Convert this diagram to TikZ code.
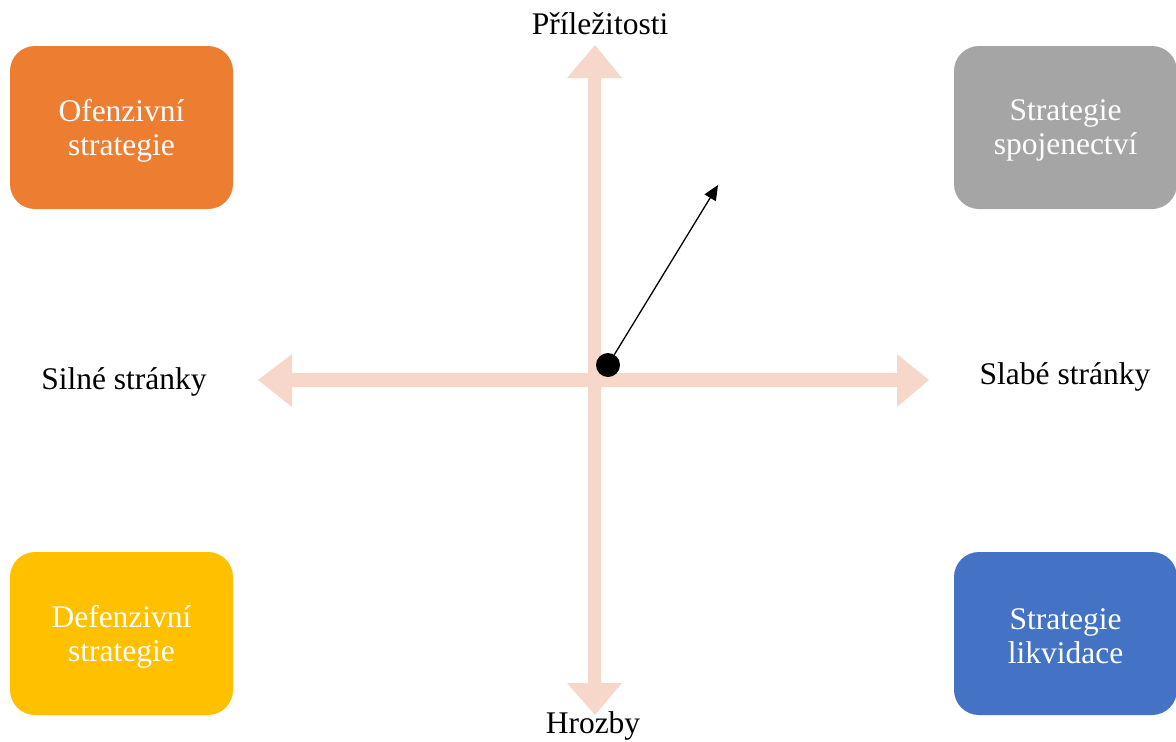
\documentclass[tikz,border=0pt]{standalone}
\usepackage{fontspec}
\setmainfont{Liberation Serif}
\usetikzlibrary{arrows.meta}
\definecolor{axispink}{HTML}{F8D7CB}
\definecolor{orangebox}{HTML}{ED7D31}
\definecolor{graybox}{HTML}{A5A5A5}
\definecolor{yellowbox}{HTML}{FFC000}
\definecolor{bluebox}{HTML}{4472C4}
\begin{document}
\begin{tikzpicture}[x=1pt,y=-1pt,
  quad/.style={rounded corners=25pt, minimum width=223pt, minimum height=163pt, inner sep=0pt},
  boxtext/.style={inner sep=0pt, text=white, align=center, font=\fontsize{31.5}{34}\selectfont},
  lab/.style={inner sep=0pt, font=\fontsize{31.5}{35}\selectfont}]
\useasboundingbox (0,0) rectangle (1176,742);
% axes as one polygon
\fill[axispink] (588,78) -- (567,78) -- (595,45) -- (622,78) -- (601,78) -- (601,373) -- (897,373) -- (897,354) -- (929,380) -- (897,407) -- (897,387) -- (601,387) -- (601,683) -- (622,683) -- (595,715) -- (567,683) -- (588,683) -- (588,387) -- (292,387) -- (292,407) -- (258,380) -- (292,354) -- (292,373) -- (588,373) -- cycle;
\node[quad, fill=orangebox] (off) at (121.5,127.5) {};
\node[quad, fill=graybox] (spo) at (1065.5,127.5) {};
\node[quad, fill=yellowbox] (def) at (121.5,633.5) {};
\node[quad, fill=bluebox] (lik) at (1065.5,633.5) {};
\node[boxtext] (offt) at ([yshift=-3pt]off.center) {Ofenzivní\\strategie};
\node[boxtext] (spot) at ([yshift=-3pt]spo.center) {Strategie\\spojenectví};
\node[boxtext] (deft) at ([yshift=-3pt]def.center) {Defenzivní\\strategie};
\node[boxtext] (likt) at ([yshift=-3pt]lik.center) {Strategie\\likvidace};
\node[lab] (pri) at (600,24) {Příležitosti};
\node[lab] (hro) at (593,726) {Hrozby};
\node[lab] (sil) at (124,382) {Silné stránky};
\node[lab] (sla) at (1065,377) {Slabé stránky};
\node[circle, fill=black, minimum size=24pt, inner sep=0pt] (dot) at (608,365) {};
\coordinate (tip) at (718,185);
\draw[line width=1.3pt, -{Triangle[length=15pt,width=13pt]}] (dot) -- (tip);
\end{tikzpicture}
\end{document}
